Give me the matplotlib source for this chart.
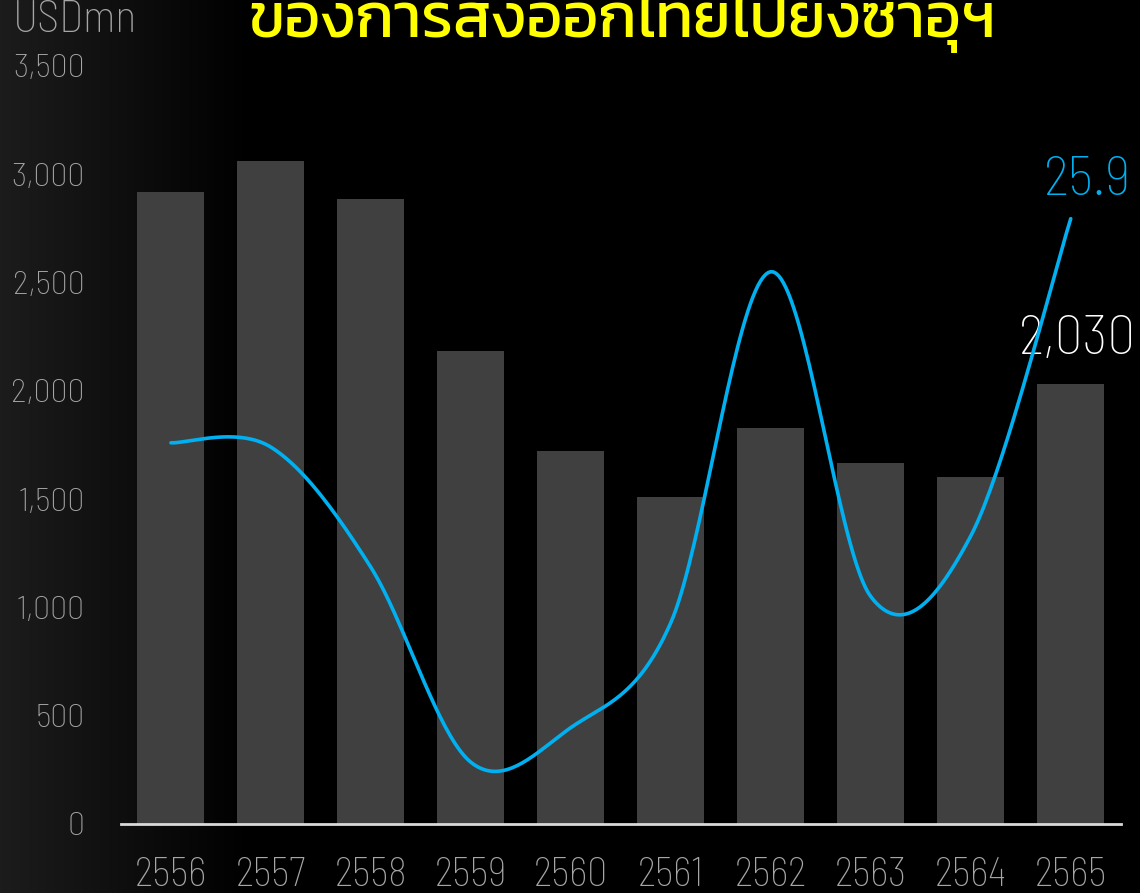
import matplotlib
matplotlib.use('Agg')
import matplotlib.pyplot as plt
import numpy as np

years = ['2556', '2557', '2558', '2559', '2560', '2561', '2562', '2563', '2564', '2565']
exports = [2920, 3060, 2885, 2185, 1720, 1510, 1830, 1665, 1600, 2030]   # USD mn
growth = [5.2, 4.8, -6.3, -24.3, -21.1, -11.4, 21.0, -9.0, -3.4, 25.9]  # %
title = 'ของการส่งออกไทยไปยังซาอุฯ'

NUM = ['Barlow Semi Condensed', 'DejaVu Sans']
THAI = ['Kanit', 'DejaVu Sans']
grey_txt = '#a6a6a6'
blue = '#00b0f0'


def smooth(xs, ys, n=40):
    # excel style smoothed line: bezier segments with tangents from neighbours
    xs = np.asarray(xs, float)
    ys = np.asarray(ys, float)
    px = np.concatenate([[xs[0]], xs, [xs[-1]]])
    py = np.concatenate([[ys[0]], ys, [ys[-1]]])
    outx, outy = [], []
    t = np.linspace(0, 1, n)
    for i in range(len(xs) - 1):
        x0, y0 = px[i + 1], py[i + 1]
        x3, y3 = px[i + 2], py[i + 2]
        x1 = x0 + (px[i + 2] - px[i]) / 6
        y1 = y0 + (py[i + 2] - py[i]) / 6
        x2 = x3 - (px[i + 3] - px[i + 1]) / 6
        y2 = y3 - (py[i + 3] - py[i + 1]) / 6
        b0 = (1 - t) ** 3
        b1 = 3 * (1 - t) ** 2 * t
        b2 = 3 * (1 - t) * t ** 2
        b3 = t ** 3
        outx.append(b0 * x0 + b1 * x1 + b2 * x2 + b3 * x3)
        outy.append(b0 * y0 + b1 * y1 + b2 * y2 + b3 * y3)
    return np.concatenate(outx), np.concatenate(outy)


fig = plt.figure(figsize=(11.4, 8.93), dpi=100, facecolor='black')

# dark grey fade on the left side
bg = fig.add_axes([0, 0, 1, 1], zorder=0)
g = np.clip(1 - np.linspace(0, 1, 1140) / 0.22, 0, 1) * 0.11
bg.imshow(np.tile(g, (10, 1)), cmap='gray', vmin=0, vmax=1, aspect='auto', extent=[0, 1, 0, 1])
bg.set_xlim(0, 1)
bg.set_ylim(0, 1)
bg.axis('off')

ax = fig.add_axes([0.1061, 0.0773, 0.877, 0.8488], zorder=1)
ax.patch.set_alpha(0)
x = np.arange(len(years))
ax.bar(x, exports, width=0.67, color='#404040', zorder=2)
ax.set_xlim(-0.5, 9.5)
ax.set_ylim(0, 3500)
ax.set_yticks(range(0, 3501, 500))
ax.set_yticklabels([f'{v:,}' for v in range(0, 3501, 500)])
ax.set_xticks(x)
ax.set_xticklabels(years)
for s in ['top', 'right', 'left']:
    ax.spines[s].set_visible(False)
ax.spines['bottom'].set_color('#d9d9d9')
ax.spines['bottom'].set_linewidth(2)
ax.tick_params(axis='both', length=0, colors=grey_txt)
ax.tick_params(axis='y', pad=26)
ax.tick_params(axis='x', pad=23.5)
for lb in ax.get_yticklabels():
    lb.set_family(NUM)
    lb.set_fontweight('light')
    lb.set_fontsize(24.5)
for lb in ax.get_xticklabels():
    lb.set_family(NUM)
    lb.set_fontweight('light')
    lb.set_fontsize(29)

ax2 = ax.twinx()
ax2.set_ylim(-30, 40)
ax2.axis('off')
sx, sy = smooth(x, growth)
ax2.plot(sx, sy, color=blue, lw=2.6, solid_capstyle='round', zorder=3)

ax2.annotate(f'{growth[-1]:.1f}', (x[-1], growth[-1]), xytext=(60, 38), textcoords='offset pixels',
             ha='right', va='center', color=blue, fontsize=40, family=NUM, fontweight='light')
ax.annotate(f'{exports[-1]:,}', (x[-1], exports[-1]), xytext=(65, 44), textcoords='offset pixels',
            ha='right', va='center', color='white', fontsize=40, family=NUM, fontweight='light')

fig.text(13 / 1140, 1 - 21 / 893, 'USDmn', ha='left', va='center', color=grey_txt,
         fontsize=32, family=NUM, fontweight='light')
fig.text(622 / 1140, 1 - 37 / 893, title, ha='center', va='baseline', color='#ffff00',
         fontsize=45, family=THAI, fontweight='normal')

fig.savefig('out.png', facecolor='black')
